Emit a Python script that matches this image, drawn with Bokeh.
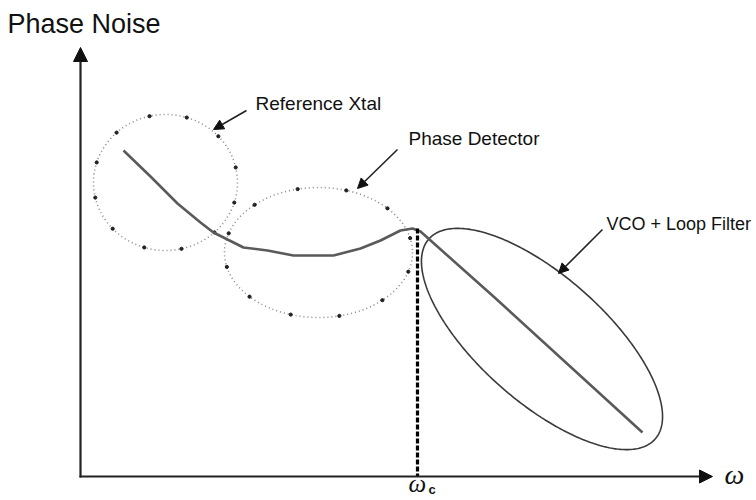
import numpy as np
from bokeh.plotting import figure
from bokeh.models import Range1d, Arrow, NormalHead, Label
from bokeh.embed import file_html
from bokeh.resources import INLINE

# ---- data (schematic, in picture units; y grows downward) ----
curve_x = [123, 150, 177, 200, 213, 243, 267, 293, 333, 360, 380, 400, 412, 420, 493, 642]
curve_y = [150, 176, 203, 222, 232, 247, 250, 255, 255, 248, 240, 230, 228, 231, 296, 432]

# dotted contributions: Reference Xtal, Phase Detector
dot_cx = [165, 318]
dot_cy = [182, 252]
dot_rx = [72, 94]
dot_ry = [68, 65]

# VCO + Loop Filter ellipse
vco_cx, vco_cy, vco_a, vco_b, vco_angle = 541.5, 338.5, 151, 63, 41.5

wc_x = 417          # loop bandwidth omega_c
wc_top = 228
axis_x0 = 80
axis_y0 = 476
axis_xend = 712
axis_ytop = 47

labels = ["Reference Xtal", "Phase Detector", "VCO + Loop Filter"]
label_x = [255, 408, 606]
label_y = [110, 145, 230]
label_size = [19, 19, 18]
arrow_from = [(246, 110), (397, 149), (602, 229)]
arrow_to = [(213, 129), (357, 188), (558, 273)]

p = figure(width=756, height=500, x_range=Range1d(0, 756), y_range=Range1d(500, 0),
           output_backend="svg", toolbar_location=None, min_border=0,
           x_axis_location=None, y_axis_location=None)
p.grid.visible = False
p.outline_line_color = None


def add_text(x, y, s, size, font="Liberation Sans", style="normal"):
    # baseline placement compensation for the svg renderer
    p.add_layout(Label(x=x, y=y - 0.37 * size, text=s, text_font=font,
                       text_font_style=style, text_font_size=f"{size}px",
                       text_color="#111111", text_baseline="alphabetic",
                       text_align="left"))


t = np.linspace(0, 2 * np.pi, 361)
for cx, cy, rx, ry in zip(dot_cx, dot_cy, dot_rx, dot_ry):
    p.line(cx + rx * np.cos(t), cy + ry * np.sin(t), line_color="#8a8a8a",
           line_width=1.6, line_dash="1 3")
    ang = np.linspace(0, 2 * np.pi, 13)[:-1] + 0.3
    p.scatter(cx + rx * np.cos(ang), cy + ry * np.sin(ang), size=3.2,
              color="#222222")

th = np.deg2rad(vco_angle)
ex = vco_cx + vco_a * np.cos(t) * np.cos(th) - vco_b * np.sin(t) * np.sin(th)
ey = vco_cy + vco_a * np.cos(t) * np.sin(th) + vco_b * np.sin(t) * np.cos(th)
p.line(ex, ey, line_color="#3a3a3a", line_width=1.6)

p.line(curve_x, curve_y, line_color="#5a5a5a", line_width=2.6)

p.line([wc_x, wc_x], [wc_top, axis_y0], line_color="#000000", line_width=3.2,
       line_dash="5 2")

# axes
p.add_layout(Arrow(x_start=axis_x0, y_start=axis_y0 + 1, x_end=axis_x0, y_end=axis_ytop,
                   line_color="#222222", line_width=2.2,
                   end=NormalHead(size=14, fill_color="#111111", line_color="#111111")))
p.add_layout(Arrow(x_start=axis_x0 - 1, y_start=axis_y0, x_end=axis_xend, y_end=axis_y0,
                   line_color="#222222", line_width=2.2,
                   end=NormalHead(size=13, fill_color="#111111", line_color="#111111")))

for (x0, y0), (x1, y1) in zip(arrow_from, arrow_to):
    p.add_layout(Arrow(x_start=x0, y_start=y0, x_end=x1, y_end=y1,
                       line_color="#222222", line_width=1.6,
                       end=NormalHead(size=10, fill_color="#111111", line_color="#111111")))

for s, x, y in zip(labels, label_x, label_y):
    pass
for s, x, y, sz in zip(labels, label_x, label_y, label_size):
    add_text(x, y, s, sz)

add_text(7, 33, "Phase Noise", 27)
add_text(724, 484, "ω", 28, font="Liberation Serif", style="italic")
add_text(408, 492, "ω", 25, font="Liberation Serif", style="italic")
add_text(428, 494, "c", 13, style="bold")

open("out.html", "w").write(file_html(p, INLINE))
